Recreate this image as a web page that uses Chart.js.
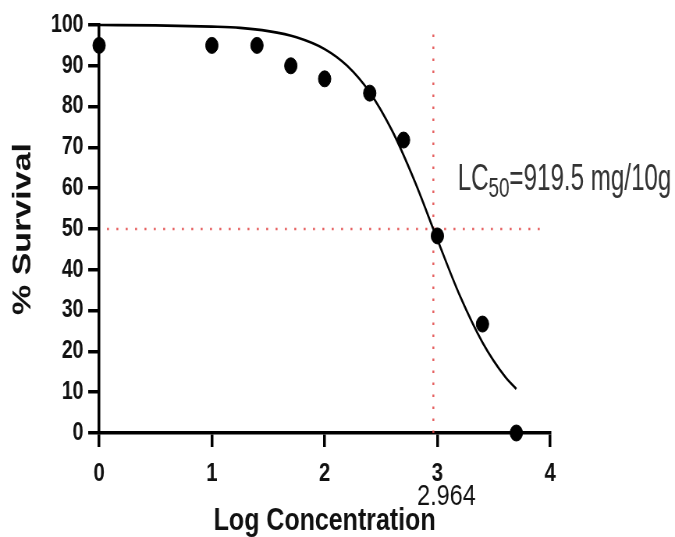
<!DOCTYPE html>
<html>
<head>
<meta charset="utf-8">
<script src="https://cdn.jsdelivr.net/npm/chart.js@4/dist/chart.umd.min.js"></script>
<style>
  body { margin: 0; background: #fff; }
  canvas { display: block; }
</style>
</head>
<body>
<!-- drawn wide then squeezed to 675px, like the narrow look of the original -->
<canvas id="chart" width="865" height="537" style="width:675px;height:537px"></canvas>
<script>
// observed data
const logConc = [0, 1, 1.4, 1.7, 2, 2.4, 2.7, 3, 3.4, 3.7];
const survival = [95, 95, 95, 90, 86.8, 83.3, 71.8, 48.3, 26.7, 0];

// fitted curve
const curveX = [0, 0.5, 1, 1.25, 1.5, 1.75, 2, 2.2, 2.4, 2.6, 2.8, 3, 3.2, 3.4, 3.6, 3.7];
const curveY = [100, 99.9, 99.6, 99.3, 98.5, 97, 94.1, 90, 83.5, 74, 61.6, 47.4, 33.6, 22.2, 13.8, 10.8];

// LC50 guide lines
const logLC50 = 2.964;
const halfX = [0.07, 3.94];
const halfY = [50, 50];
const lcX = [logLC50, logLC50];
const lcY = [0, 100];

const xTicks = [0, 1, 2, 3, 4];
const yTicks = [0, 10, 20, 30, 40, 50, 60, 70, 80, 90, 100];

const FONT = "'Liberation Sans', Arial, sans-serif";
const dotRed = 'rgba(226, 70, 70, 0.85)';

const toPoints = (xs, ys) => xs.map((x, i) => ({ x: x, y: ys[i] }));

// LC50 text and 2.964 label
const labelPlugin = {
    id: 'lcLabels',
    afterDraw(chart) {
        const ctx = chart.ctx;
        const xs = chart.scales.x;
        const ys = chart.scales.y;
        ctx.save();
        ctx.fillStyle = '#333';
        ctx.textBaseline = 'alphabetic';
        ctx.textAlign = 'left';

        // the annotation is narrower than the rest of the text
        ctx.translate(xs.getPixelForValue(3.18), ys.getPixelForValue(59.5));
        ctx.scale(0.86, 1);
        let x = 0;
        ctx.font = `36px ${FONT}`;
        ctx.fillText('LC', x, 0);
        x += ctx.measureText('LC').width;
        ctx.font = `28px ${FONT}`;
        ctx.fillText('50', x, 7);
        x += ctx.measureText('50').width;
        ctx.font = `36px ${FONT}`;
        ctx.fillText('=919.5 mg/10g', x, 0);
        ctx.restore();

        ctx.save();
        ctx.fillStyle = '#111';
        ctx.textAlign = 'center';
        ctx.font = `30px ${FONT}`;
        ctx.fillText('2.964', xs.getPixelForValue(3.08), 505);
        ctx.restore();
    }
};

new Chart(document.getElementById('chart'), {
    type: 'scatter',
    data: {
        datasets: [
            {
                label: 'Survival',
                data: toPoints(logConc, survival),
                backgroundColor: '#000',
                borderColor: '#000',
                pointRadius: 8,
                pointHoverRadius: 8,
                clip: false
            },
            {
                label: 'Fit',
                data: toPoints(curveX, curveY),
                showLine: true,
                borderColor: '#000',
                borderWidth: 2.6,
                pointRadius: 0,
                cubicInterpolationMode: 'monotone',
                clip: false
            },
            {
                label: '50%',
                data: toPoints(halfX, halfY),
                showLine: true,
                borderColor: dotRed,
                borderWidth: 2.5,
                borderDash: [2.5, 9.5],
                pointRadius: 0
            },
            {
                label: 'LC50',
                data: toPoints(lcX, lcY),
                showLine: true,
                borderColor: dotRed,
                borderWidth: 2.5,
                borderDash: [2.5, 9.5],
                pointRadius: 0
            }
        ]
    },
    options: {
        responsive: false,
        devicePixelRatio: 1,
        animation: false,
        layout: { padding: { left: 0, top: 25, right: 160, bottom: 0 } },
        plugins: {
            legend: { display: false },
            tooltip: { enabled: false }
        },
        scales: {
            x: {
                type: 'linear',
                min: 0,
                max: 4,
                afterBuildTicks: (scale) => { scale.ticks = xTicks.map(v => ({ value: v })); },
                afterFit: (scale) => { scale.height = 104; },
                border: { display: true, color: '#000', width: 3.5 },
                grid: { drawOnChartArea: false, drawTicks: true, tickLength: 14, color: '#000', lineWidth: 3.5 },
                ticks: { color: '#111', padding: 11, font: { family: FONT, size: 26, weight: 'bold' } },
                title: {
                    display: true,
                    text: 'Log Concentration',
                    color: '#111',
                    padding: 0,
                    font: { family: FONT, size: 32, weight: 'bold', lineHeight: 1.0 }
                }
            },
            y: {
                type: 'linear',
                min: 0,
                max: 100,
                afterBuildTicks: (scale) => { scale.ticks = yTicks.map(v => ({ value: v })); },
                afterFit: (scale) => { scale.width = 127; },
                border: { display: true, color: '#000', width: 3.5 },
                grid: { drawOnChartArea: false, drawTicks: true, tickLength: 14, color: '#000', lineWidth: 3.5 },
                ticks: { color: '#111', padding: 6, font: { family: FONT, size: 25, weight: 'bold' } },
                title: {
                    display: true,
                    text: '% Survival',
                    color: '#111',
                    padding: { top: 13, bottom: 0 },
                    font: { family: FONT, size: 34, weight: 'bold', lineHeight: 1.0 }
                }
            }
        }
    },
    plugins: [labelPlugin]
});
</script>
</body>
</html>
